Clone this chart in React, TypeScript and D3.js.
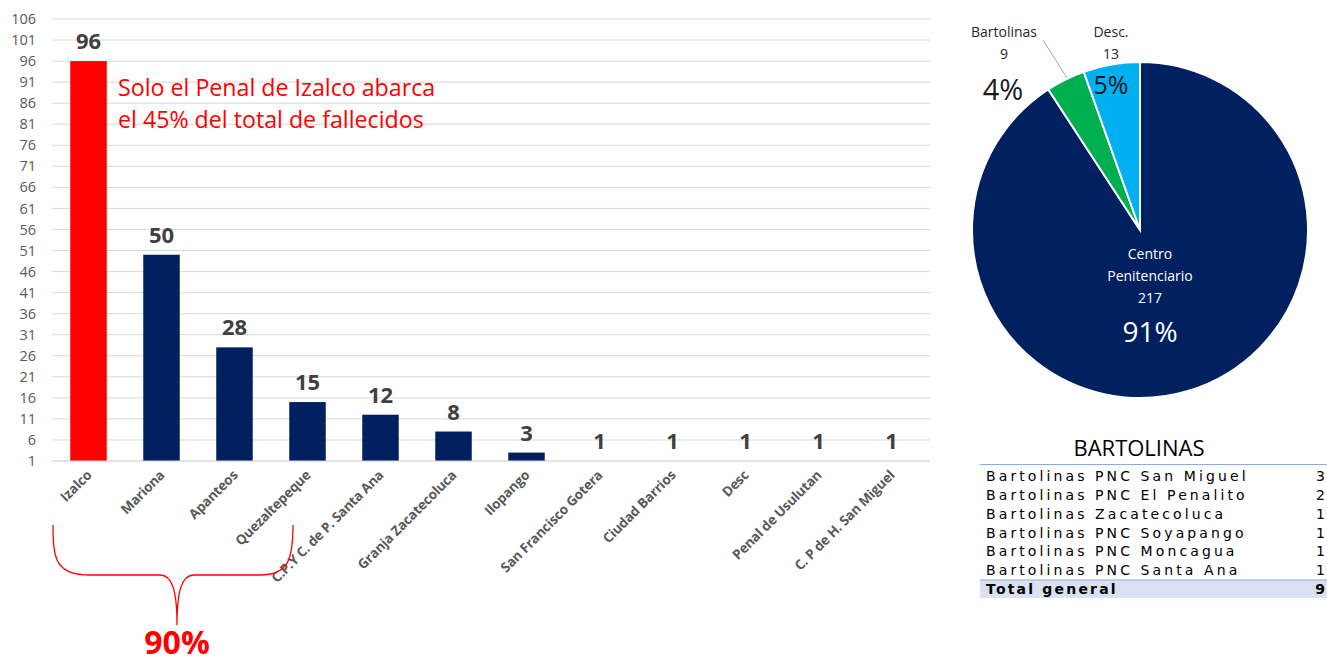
import React from "react";
import * as d3 from "d3";

const categories = ["Izalco", "Mariona", "Apanteos", "Quezaltepeque", "C.P.Y C. de P. Santa Ana", "Granja Zacatecoluca", "Ilopango", "San Francisco Gotera", "Ciudad Barrios", "Desc", "Penal de Usulutan", "C. P de H. San Miguel"];
const values = [96, 50, 28, 15, 12, 8, 3, 1, 1, 1, 1, 1];
const yTicks = d3.range(1, 107, 5);

const pieLabels = ["Centro Penitenciario", "Bartolinas", "Desc."];
const pieValues = [217, 9, 13];
const pieColors = ["#002060", "#00B050", "#00B0F0"];

const tableNames = ["Bartolinas PNC San Miguel", "Bartolinas PNC El Penalito", "Bartolinas Zacatecoluca", "Bartolinas PNC Soyapango", "Bartolinas PNC Moncagua", "Bartolinas PNC Santa Ana"];
const tableValues = [3, 2, 1, 1, 1, 1];
const tableTotal = 9;

const SANS = "'Open Sans', 'Noto Sans', sans-serif";
const TFONT = "'DejaVu Sans', Verdana, sans-serif";

export default function App() {
  const x = d3.scaleBand<string>().domain(categories).range([52, 928]).paddingInner(0.5).paddingOuter(0.25);
  const y = d3.scaleLinear().domain([1, 106]).range([461, 19]);

  const pie = d3.pie<number>().sort(null).value((d) => d)(pieValues);
  const cx = 1140, cy = 230, r = 168;
  const arc = d3.arc<d3.PieArcDatum<number>>().innerRadius(0).outerRadius(r);
  const total = d3.sum(pieValues);

  const rowY = d3.scaleLinear().domain([0, 6]).range([476, 589]);

  const brace = "M53,525 C53,560 56,575 90,575 L160,575 C172,575 177,590 177,625 C177,590 182,575 194,575 L260,575 C288,575 293,560 293,525";

  return (
    <svg width={1327} height={664} style={{ position: "absolute", left: 0, top: 0, background: "#fff" }}>
      {/* grid */}
      {yTicks.map((t) => (
        <g key={t}>
          <line x1={52} x2={930} y1={y(t)} y2={y(t)} stroke="#d9d9d9" strokeWidth={1} />
          <text x={36} y={y(t)} dy="0.35em" textAnchor="end" fontFamily={SANS} fontSize={14.5} fill="#595959">{t}</text>
        </g>
      ))}
      {/* bars */}
      {categories.map((c, i) => (
        <g key={c}>
          <rect x={x(c)} width={x.bandwidth()} y={y(values[i])} height={y(1) - y(values[i])} fill={i === 0 ? "#FF0000" : "#002060"} />
          <text x={x(c)! + x.bandwidth() / 2} y={y(values[i]) - 12} textAnchor="middle" fontFamily={SANS} fontWeight="bold" fontSize={22} fill="#404040">{values[i]}</text>
          <text transform={`translate(${x(c)! + x.bandwidth() / 2 + 4},${476}) rotate(-45)`} textAnchor="end" fontFamily={SANS} fontWeight="bold" fontSize={13.5} fill="#595959" letterSpacing={-0.2}>{c}</text>
        </g>
      ))}
      <line x1={52} x2={930} y1={y(1)} y2={y(1)} stroke="#d9d9d9" />
      {/* annotation */}
      <text x={118} y={96} fontFamily={SANS} fontSize={23.2} fill="#FF0000">Solo el Penal de Izalco abarca</text>
      <text x={118} y={128} fontFamily={SANS} fontSize={23.2} fill="#FF0000">el 45% del total de fallecidos</text>
      <path d={brace} fill="none" stroke="#FF0000" strokeWidth={1.3} />
      <text x={177} y={654} textAnchor="middle" fontFamily={SANS} fontWeight="bold" fontSize={32} fill="#FF0000">90%</text>

      {/* pie */}
      <g transform={`translate(${cx},${cy})`}>
        {pie.map((p, i) => (
          <path key={i} d={arc(p)!} fill={pieColors[i]} stroke="#fff" strokeWidth={2} />
        ))}
      </g>
      <line x1={1043} y1={40} x2={1067} y2={78} stroke="#a6a6a6" strokeWidth={1} />
      <text x={1004} y={37} textAnchor="middle" fontFamily={SANS} fontSize={14} fill="#262626">{pieLabels[1]}</text>
      <text x={1004} y={59} textAnchor="middle" fontFamily={SANS} fontSize={14} fill="#262626">{pieValues[1]}</text>
      <text x={1003} y={100} textAnchor="middle" fontFamily={SANS} fontSize={29} fill="#1a1a1a">{Math.round((pieValues[1] / total) * 100)}%</text>
      <text x={1111} y={37} textAnchor="middle" fontFamily={SANS} fontSize={14} fill="#262626">{pieLabels[2]}</text>
      <text x={1111} y={59} textAnchor="middle" fontFamily={SANS} fontSize={14} fill="#262626">{pieValues[2]}</text>
      <text x={1111} y={94} textAnchor="middle" fontFamily={SANS} fontSize={25} fill="#1a1a1a">{Math.round((pieValues[2] / total) * 100)}%</text>
      <text x={1150} y={259} textAnchor="middle" fontFamily={SANS} fontSize={14} fill="#fff">Centro</text>
      <text x={1150} y={281} textAnchor="middle" fontFamily={SANS} fontSize={14} fill="#fff">Penitenciario</text>
      <text x={1150} y={303} textAnchor="middle" fontFamily={SANS} fontSize={14} fill="#fff">{pieValues[0]}</text>
      <text x={1150} y={342} textAnchor="middle" fontFamily={SANS} fontSize={28} fill="#fff">{Math.round((pieValues[0] / total) * 100)}%</text>

      {/* table */}
      <text x={1139} y={456} textAnchor="middle" fontFamily={SANS} fontSize={22} fill="#000">BARTOLINAS</text>
      <line x1={980} x2={1327} y1={464.5} y2={464.5} stroke="#8ea9db" strokeWidth={1} />
      <rect x={980} y={580} width={347} height={18} fill="#d9e1f2" />
      <line x1={980} x2={1327} y1={580} y2={580} stroke="#8ea9db" strokeWidth={1.2} />
      {tableNames.map((n, i) => (
        <g key={n}>
          <text x={986} y={rowY(i) + 5} fontFamily={TFONT} fontSize={14} letterSpacing={3.1} fill="#000">{n}</text>
          <text x={1325} y={rowY(i) + 5} textAnchor="end" fontFamily={TFONT} fontSize={14} fill="#000">{tableValues[i]}</text>
        </g>
      ))}
      <text x={986} y={rowY(6) + 5} fontFamily={TFONT} fontWeight="bold" fontSize={14} letterSpacing={2.2} fill="#000">Total general</text>
      <text x={1325} y={rowY(6) + 5} textAnchor="end" fontFamily={TFONT} fontWeight="bold" fontSize={14} fill="#000">{tableTotal}</text>
    </svg>
  );
}
